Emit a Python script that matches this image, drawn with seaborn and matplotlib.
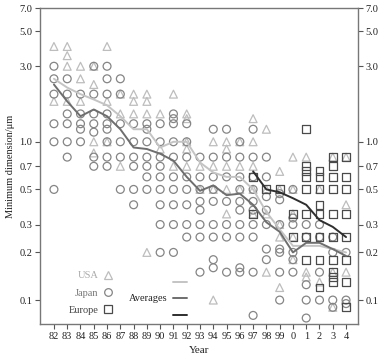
import numpy as np
import pandas as pd
import matplotlib
matplotlib.use('Agg')
import matplotlib.pyplot as plt
import seaborn as sns
from matplotlib.lines import Line2D

years = ['82', '83', '84', '85', '86', '87', '88', '89', '90', '91', '92', '93',
         '94', '95', '96', '97', '98', '99', '0', '1', '2', '3', '4']

# minimum feature sizes per year (um)
usa = [
    [4.0, 1.8],
    [4.0, 3.5, 3.0, 1.8],
    [3.0, 2.5, 1.8],
    [3.0, 2.3, 1.0, 0.85],
    [4.0, 1.8, 1.0],
    [2.0, 1.5, 0.7],
    [2.0, 1.8, 1.5],
    [2.0, 1.8, 1.5, 0.2],
    [1.5, 0.9],
    [2.0, 0.7],
    [1.5, 1.4, 1.0, 0.9, 0.7],
    [0.7, 0.5],
    [1.0, 0.7, 0.5, 0.1],
    [1.0, 0.9, 0.7, 0.5, 0.35],
    [1.0, 0.7, 0.5],
    [1.4, 1.0, 0.7, 0.5, 0.35],
    [1.2, 0.5, 0.35, 0.15],
    [0.65, 0.5, 0.3, 0.25, 0.12],
    [0.8, 0.5, 0.35, 0.25, 0.18],
    [0.8, 0.15, 0.14],
    [0.5, 0.13],
    [0.8, 0.15, 0.09],
    [0.8, 0.4, 0.15],
]
japan = [
    [3.0, 2.5, 2.0, 1.3, 1.0, 0.5],
    [2.5, 2.0, 1.5, 1.3, 1.0, 0.8],
    [2.0, 1.5, 1.3, 1.2, 1.0],
    [3.0, 2.0, 1.5, 1.3, 1.15, 0.8, 0.7],
    [3.0, 2.5, 2.0, 1.5, 1.3, 1.2, 1.0, 0.8, 0.7],
    [2.5, 2.0, 1.3, 1.0, 0.8, 0.5],
    [1.3, 1.0, 0.8, 0.7, 0.5, 0.4],
    [1.3, 1.2, 1.0, 0.8, 0.7, 0.6, 0.5],
    [1.3, 1.0, 0.8, 0.7, 0.6, 0.5, 0.4, 0.3, 0.2],
    [1.5, 1.4, 1.3, 1.0, 0.8, 0.6, 0.5, 0.4, 0.3, 0.2],
    [1.3, 1.0, 0.8, 0.6, 0.5, 0.4, 0.3, 0.25],
    [0.8, 0.6, 0.5, 0.42, 0.37, 0.3, 0.25, 0.15],
    [1.2, 0.8, 0.6, 0.5, 0.42, 0.3, 0.25, 0.18, 0.16],
    [1.2, 0.8, 0.6, 0.42, 0.3, 0.25, 0.15],
    [1.0, 0.8, 0.6, 0.5, 0.42, 0.37, 0.3, 0.25, 0.16, 0.15],
    [1.2, 0.8, 0.6, 0.5, 0.42, 0.37, 0.3, 0.25, 0.15, 0.08],
    [0.8, 0.6, 0.45, 0.37, 0.3, 0.21, 0.18],
    [0.47, 0.43, 0.3, 0.21, 0.2, 0.15, 0.1],
    [0.5, 0.33, 0.3, 0.2, 0.18, 0.15],
    [0.3, 0.25, 0.125, 0.1, 0.077],
    [0.3, 0.25, 0.15, 0.1],
    [0.25, 0.2, 0.1, 0.09],
    [0.2, 0.1, 0.095],
]
europe = [
    [], [], [], [], [], [], [], [], [], [], [], [], [], [], [],
    [0.6, 0.35],
    [0.5],
    [0.5],
    [0.35, 0.25],
    [1.2, 0.7, 0.65, 0.6, 0.5, 0.35, 0.25, 0.18],
    [0.65, 0.6, 0.5, 0.4, 0.35, 0.25, 0.18, 0.12],
    [0.8, 0.7, 0.6, 0.5, 0.35, 0.25, 0.18, 0.15, 0.14, 0.13],
    [0.8, 0.6, 0.5, 0.35, 0.25, 0.18, 0.13, 0.09],
]

usa_avg = [2.5, 2.2, 2.0, 1.85, 1.7, 1.45, 1.2, 1.2, 0.92, 1.0, 1.0, 0.74,
           0.64, 0.6, 0.6, 0.5, 0.36, 0.28, 0.22, 0.22, 0.22, 0.21, 0.2]
japan_avg = [2.3, 1.8, 1.45, 1.6, 1.45, 1.2, 0.92, 0.9, 0.84, 0.76, 0.6, 0.49,
             0.53, 0.46, 0.47, 0.4, 0.31, 0.27, 0.2, 0.23, 0.23, 0.21, 0.19]
europe_years = ['97', '98', '99', '0', '1', '2', '3', '4']
europe_avg = [0.65, 0.5, 0.48, 0.44, 0.4, 0.32, 0.29, 0.25]

rows = []
for name, pts in [('USA', usa), ('Japan', japan), ('Europe', europe)]:
    for i, vals in enumerate(pts):
        for v in vals:
            rows.append({'region': name, 'pos': i, 'size': v})
df = pd.DataFrame(rows)

sns.set_style('ticks')
plt.rcParams['font.family'] = ['Liberation Serif', 'DejaVu Serif']

colors = {'USA': '#bdbdbd', 'Japan': '#858585', 'Europe': '#4a4a4a'}
markers = {'USA': '^', 'Japan': 'o', 'Europe': 's'}
line_colors = {'USA': '#c4c4c4', 'Japan': '#6e6e6e', 'Europe': '#2e2e2e'}

fig = plt.figure(figsize=(3.82, 3.58), dpi=100)
ax = fig.add_axes([40 / 382, 1 - 324 / 358, 318 / 382, 316 / 358])

for name in ['USA', 'Japan', 'Europe']:
    sub = df[df['region'] == name]
    sns.scatterplot(x=sub['pos'], y=sub['size'], ax=ax, marker=markers[name],
                    color=colors[name], facecolor='none', edgecolor=colors[name],
                    s=32, linewidth=0.9, zorder=2)

pos = np.arange(len(years))
sns.lineplot(x=pos, y=usa_avg, ax=ax, color=line_colors['USA'], linewidth=1.4, zorder=3)
sns.lineplot(x=pos, y=japan_avg, ax=ax, color=line_colors['Japan'], linewidth=1.4, zorder=3)
epos = [years.index(y) for y in europe_years]
sns.lineplot(x=epos, y=europe_avg, ax=ax, color=line_colors['Europe'], linewidth=1.4, zorder=3)

ax.set_yscale('log')
ax.set_ylim(0.0706, 7.0)
ax.set_xlim(-1.05, 22.9)
yt = [0.1, 0.2, 0.3, 0.5, 0.7, 1.0, 3.0, 5.0, 7.0]
ax.set_yticks(yt)
ax.set_yticklabels(['%.1f' % t for t in yt])
ax.yaxis.set_minor_locator(matplotlib.ticker.NullLocator())
ax.set_xticks(pos)
ax.set_xticklabels(years)
ax.tick_params(axis='both', labelsize=7.5, length=3.5, width=0.8, color='#555555',
               labelcolor='#222222', pad=2)
ax.tick_params(axis='y', right=True, labelright=True)
for sp in ax.spines.values():
    sp.set_color('#777777')
    sp.set_linewidth(1.0)

ax.set_xlabel('Year', fontsize=8, color='#222222', labelpad=4)
ax.set_ylabel('Minimum dimension/μm', fontsize=7.5, color='#222222', labelpad=3)

handles = [Line2D([], [], marker=markers[n], linestyle='none', markersize=5.5,
                  markerfacecolor='none', markeredgecolor=colors[n], markeredgewidth=0.9)
           for n in ['USA', 'Japan', 'Europe']]
leg = ax.legend(handles, ['USA', 'Japan', 'Europe'], loc='lower left',
                bbox_to_anchor=(0.06, 0.0), frameon=False, markerfirst=False,
                fontsize=7.5, handlelength=0.8, handletextpad=0.5, labelspacing=0.75)
leg.get_texts()[0].set_color('#aaaaaa')
leg.get_texts()[1].set_color('#777777')
leg.get_texts()[2].set_color('#444444')

ax.text(0.40, 0.082, 'Averages', transform=ax.transAxes, ha='right', va='center',
        fontsize=7.5, color='#222222')
for yy, n in zip([0.133, 0.082, 0.028], ['USA', 'Japan', 'Europe']):
    ax.plot([0.418, 0.462], [yy, yy], transform=ax.transAxes,
            color=line_colors[n], linewidth=1.4)

fig.savefig('out.png', dpi=100)
